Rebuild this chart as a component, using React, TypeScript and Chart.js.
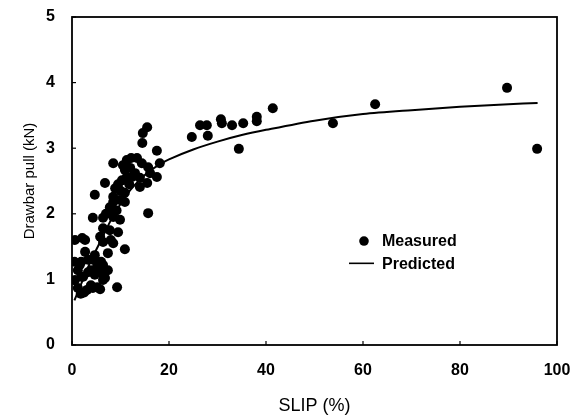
import React, { useEffect, useRef } from 'react';
import { Chart, registerables } from 'chart.js';

Chart.register(...registerables);

// Measured drawbar pull vs slip
const measuredSlip = [
  24.7, 26.4, 27.8, 28.0, 30.7, 30.9, 33.0, 35.3, 34.4, 38.1, 38.1, 41.4, 53.8, 62.5, 89.7, 95.9,
  15.5, 14.6, 14.5, 17.5, 8.5, 11.3, 12.2, 13.4, 14.4, 10.9, 10.5, 15.7, 18.1, 12.4, 11.3, 14.0,
  16.1, 17.5, 10.3, 15.5, 8.9, 14.0, 10.9, 4.7, 6.8, 8.5, 9.9, 8.5, 10.9, 7.8, 8.2, 15.7,
  4.3, 6.4, 8.5, 9.9, 6.4, 7.8, 9.5, 2.7, 0.6, 2.1, 5.8, 6.4, 8.5, 10.9, 7.4, 2.7,
  4.3, 1.6, 6.4, 7.4, 1.2, 3.3, 4.7, 6.4, 2.3, 4.3, 3.1, 5.2, 1.2, 9.3, 0.6, 5.2,
  8.0, 4.7, 1.9, 3.3, 6.0, 3.9, 5.8, 1.9, 6.8, 3.9, 5.8, 2.5, 1.8, 0.5,
  9.5, 12.0, 13.0, 11.8, 9.2, 10.0, 7.0,
];
const measuredPull = [
  3.17, 3.35, 3.35, 3.19, 3.44, 3.38, 3.35, 3.38, 2.99, 3.48, 3.41, 3.61, 3.38, 3.67, 3.92, 2.99,
  3.32, 3.23, 3.08, 2.96, 2.77, 2.82, 2.85, 2.85, 2.77, 2.67, 2.74, 2.71, 2.77, 2.56, 2.56, 2.55,
  2.62, 2.56, 2.51, 2.47, 2.39, 2.41, 2.32, 2.29, 2.47, 2.26, 2.21, 2.18, 2.18, 2.10, 2.06, 2.01,
  1.94, 1.94, 1.95, 1.91, 1.78, 1.75, 1.72, 1.60, 1.60, 1.63, 1.65, 1.57, 1.55, 1.46, 1.40, 1.42,
  1.30, 1.22, 1.22, 1.14, 1.14, 1.11, 1.07, 0.99, 1.04, 0.87, 0.84, 0.88, 0.87, 0.88, 0.99, 1.20,
  1.60, 1.37, 1.27, 1.30, 1.27, 1.14, 1.11, 1.04, 1.02, 0.91, 0.85, 0.80, 0.78, 1.27,
  2.45, 2.70, 2.62, 2.45, 2.05, 2.35, 2.00,
];

// Predicted curve
const predictedSlip = [0.5, 2, 4, 6, 8, 10, 12, 14, 16, 18, 20, 25, 30, 35, 40, 50, 60, 70, 80, 90, 96];
const predictedPull = [0.68, 0.95, 1.3, 1.6, 1.9, 2.15, 2.36, 2.52, 2.65, 2.75, 2.83, 2.98, 3.1, 3.2, 3.28, 3.42, 3.52, 3.58, 3.63, 3.67, 3.69];

const xTicks = [0, 20, 40, 60, 80, 100];
const yTicks = [0, 1, 2, 3, 4, 5];

const FONT = "'Liberation Sans', Arial, Helvetica, sans-serif";

const framePlugin = {
  id: 'frameAndLegend',
  afterDraw(chart: any) {
    const ctx = chart.ctx;
    const { left, right, top, bottom } = chart.chartArea;
    const xs = chart.scales.x;
    const ys = chart.scales.y;
    ctx.save();
    ctx.strokeStyle = '#000';
    ctx.lineWidth = 1.8;
    ctx.strokeRect(left, top, right - left, bottom - top);
    ctx.lineWidth = 1.2;
    xTicks.forEach((v) => {
      const px = xs.getPixelForValue(v);
      ctx.beginPath();
      ctx.moveTo(px, bottom);
      ctx.lineTo(px, bottom - 4);
      ctx.stroke();
    });
    yTicks.forEach((v) => {
      const py = ys.getPixelForValue(v);
      ctx.beginPath();
      ctx.moveTo(left, py);
      ctx.lineTo(left + 4, py);
      ctx.stroke();
    });
    // legend
    const w = right - left;
    const h = bottom - top;
    const lx = left + w * 0.567;
    const ly1 = top + h * 0.683;
    const ly2 = top + h * 0.751;
    ctx.fillStyle = '#000';
    ctx.beginPath();
    ctx.arc(lx + 17, ly1, 4.8, 0, Math.PI * 2);
    ctx.fill();
    ctx.lineWidth = 1.6;
    ctx.beginPath();
    ctx.moveTo(lx + 2, ly2);
    ctx.lineTo(lx + 27, ly2);
    ctx.stroke();
    ctx.font = `bold 16px ${FONT}`;
    ctx.textBaseline = 'middle';
    ctx.textAlign = 'left';
    ctx.fillText(chart.data.datasets[0].label, lx + 35, ly1 + 1);
    ctx.fillText(chart.data.datasets[1].label, lx + 35, ly2 + 1);
    ctx.restore();
  },
};

const noPad = (s: any) => {
  s.paddingTop = 0;
  s.paddingBottom = 0;
  s.paddingLeft = 0;
  s.paddingRight = 0;
};

export default function App() {
  const ref = useRef<HTMLCanvasElement | null>(null);
  useEffect(() => {
    if (!ref.current) return;
    const chart = new Chart(ref.current, {
      type: 'scatter',
      data: {
        datasets: [
          {
            label: 'Measured',
            data: measuredSlip.map((x, i) => ({ x, y: measuredPull[i] })),
            pointRadius: 5,
            pointBackgroundColor: '#000',
            pointBorderColor: '#000',
            pointBorderWidth: 0,
            showLine: false,
          },
          {
            label: 'Predicted',
            data: predictedSlip.map((x, i) => ({ x, y: predictedPull[i] })),
            showLine: true,
            pointRadius: 0,
            borderColor: '#000',
            borderWidth: 2,
            tension: 0.3,
            fill: false,
          },
        ],
      },
      options: {
        animation: false,
        responsive: false,
        maintainAspectRatio: false,
        layout: { padding: { left: 0, top: 17, right: 25, bottom: 0 } },
        plugins: { legend: { display: false }, tooltip: { enabled: false } },
        scales: {
          x: {
            type: 'linear',
            min: 0,
            max: 100,
            afterBuildTicks: (s: any) => { s.ticks = xTicks.map((v) => ({ value: v })); },
            afterFit: (s: any) => { s.height = 72; noPad(s); },
            grid: { display: false, drawTicks: false },
            border: { display: false },
            ticks: { color: '#000', padding: 16, font: { family: FONT, size: 16, weight: 'bold' } },
            title: { display: true, text: 'SLIP (%)', color: '#000', padding: { top: 0, bottom: 0 }, font: { family: FONT, size: 18 } },
          },
          y: {
            type: 'linear',
            min: 0,
            max: 5,
            afterBuildTicks: (s: any) => { s.ticks = yTicks.map((v) => ({ value: v })); },
            afterFit: (s: any) => { s.width = 72; noPad(s); },
            grid: { display: false, drawTicks: false },
            border: { display: false },
            ticks: { color: '#000', padding: 17, font: { family: FONT, size: 16, weight: 'bold' } },
            title: { display: true, text: 'Drawbar pull (kN)', color: '#000', padding: { top: 21, bottom: 0 }, font: { family: FONT, size: 15 } },
          },
        },
      },
      plugins: [framePlugin],
    });
    return () => chart.destroy();
  }, []);
  return (
    <div style={{ position: 'fixed', left: 0, top: 0, width: 582, height: 417, background: '#fff' }}>
      <canvas ref={ref} width={582} height={417} style={{ width: 582, height: 417 }} />
    </div>
  );
}
